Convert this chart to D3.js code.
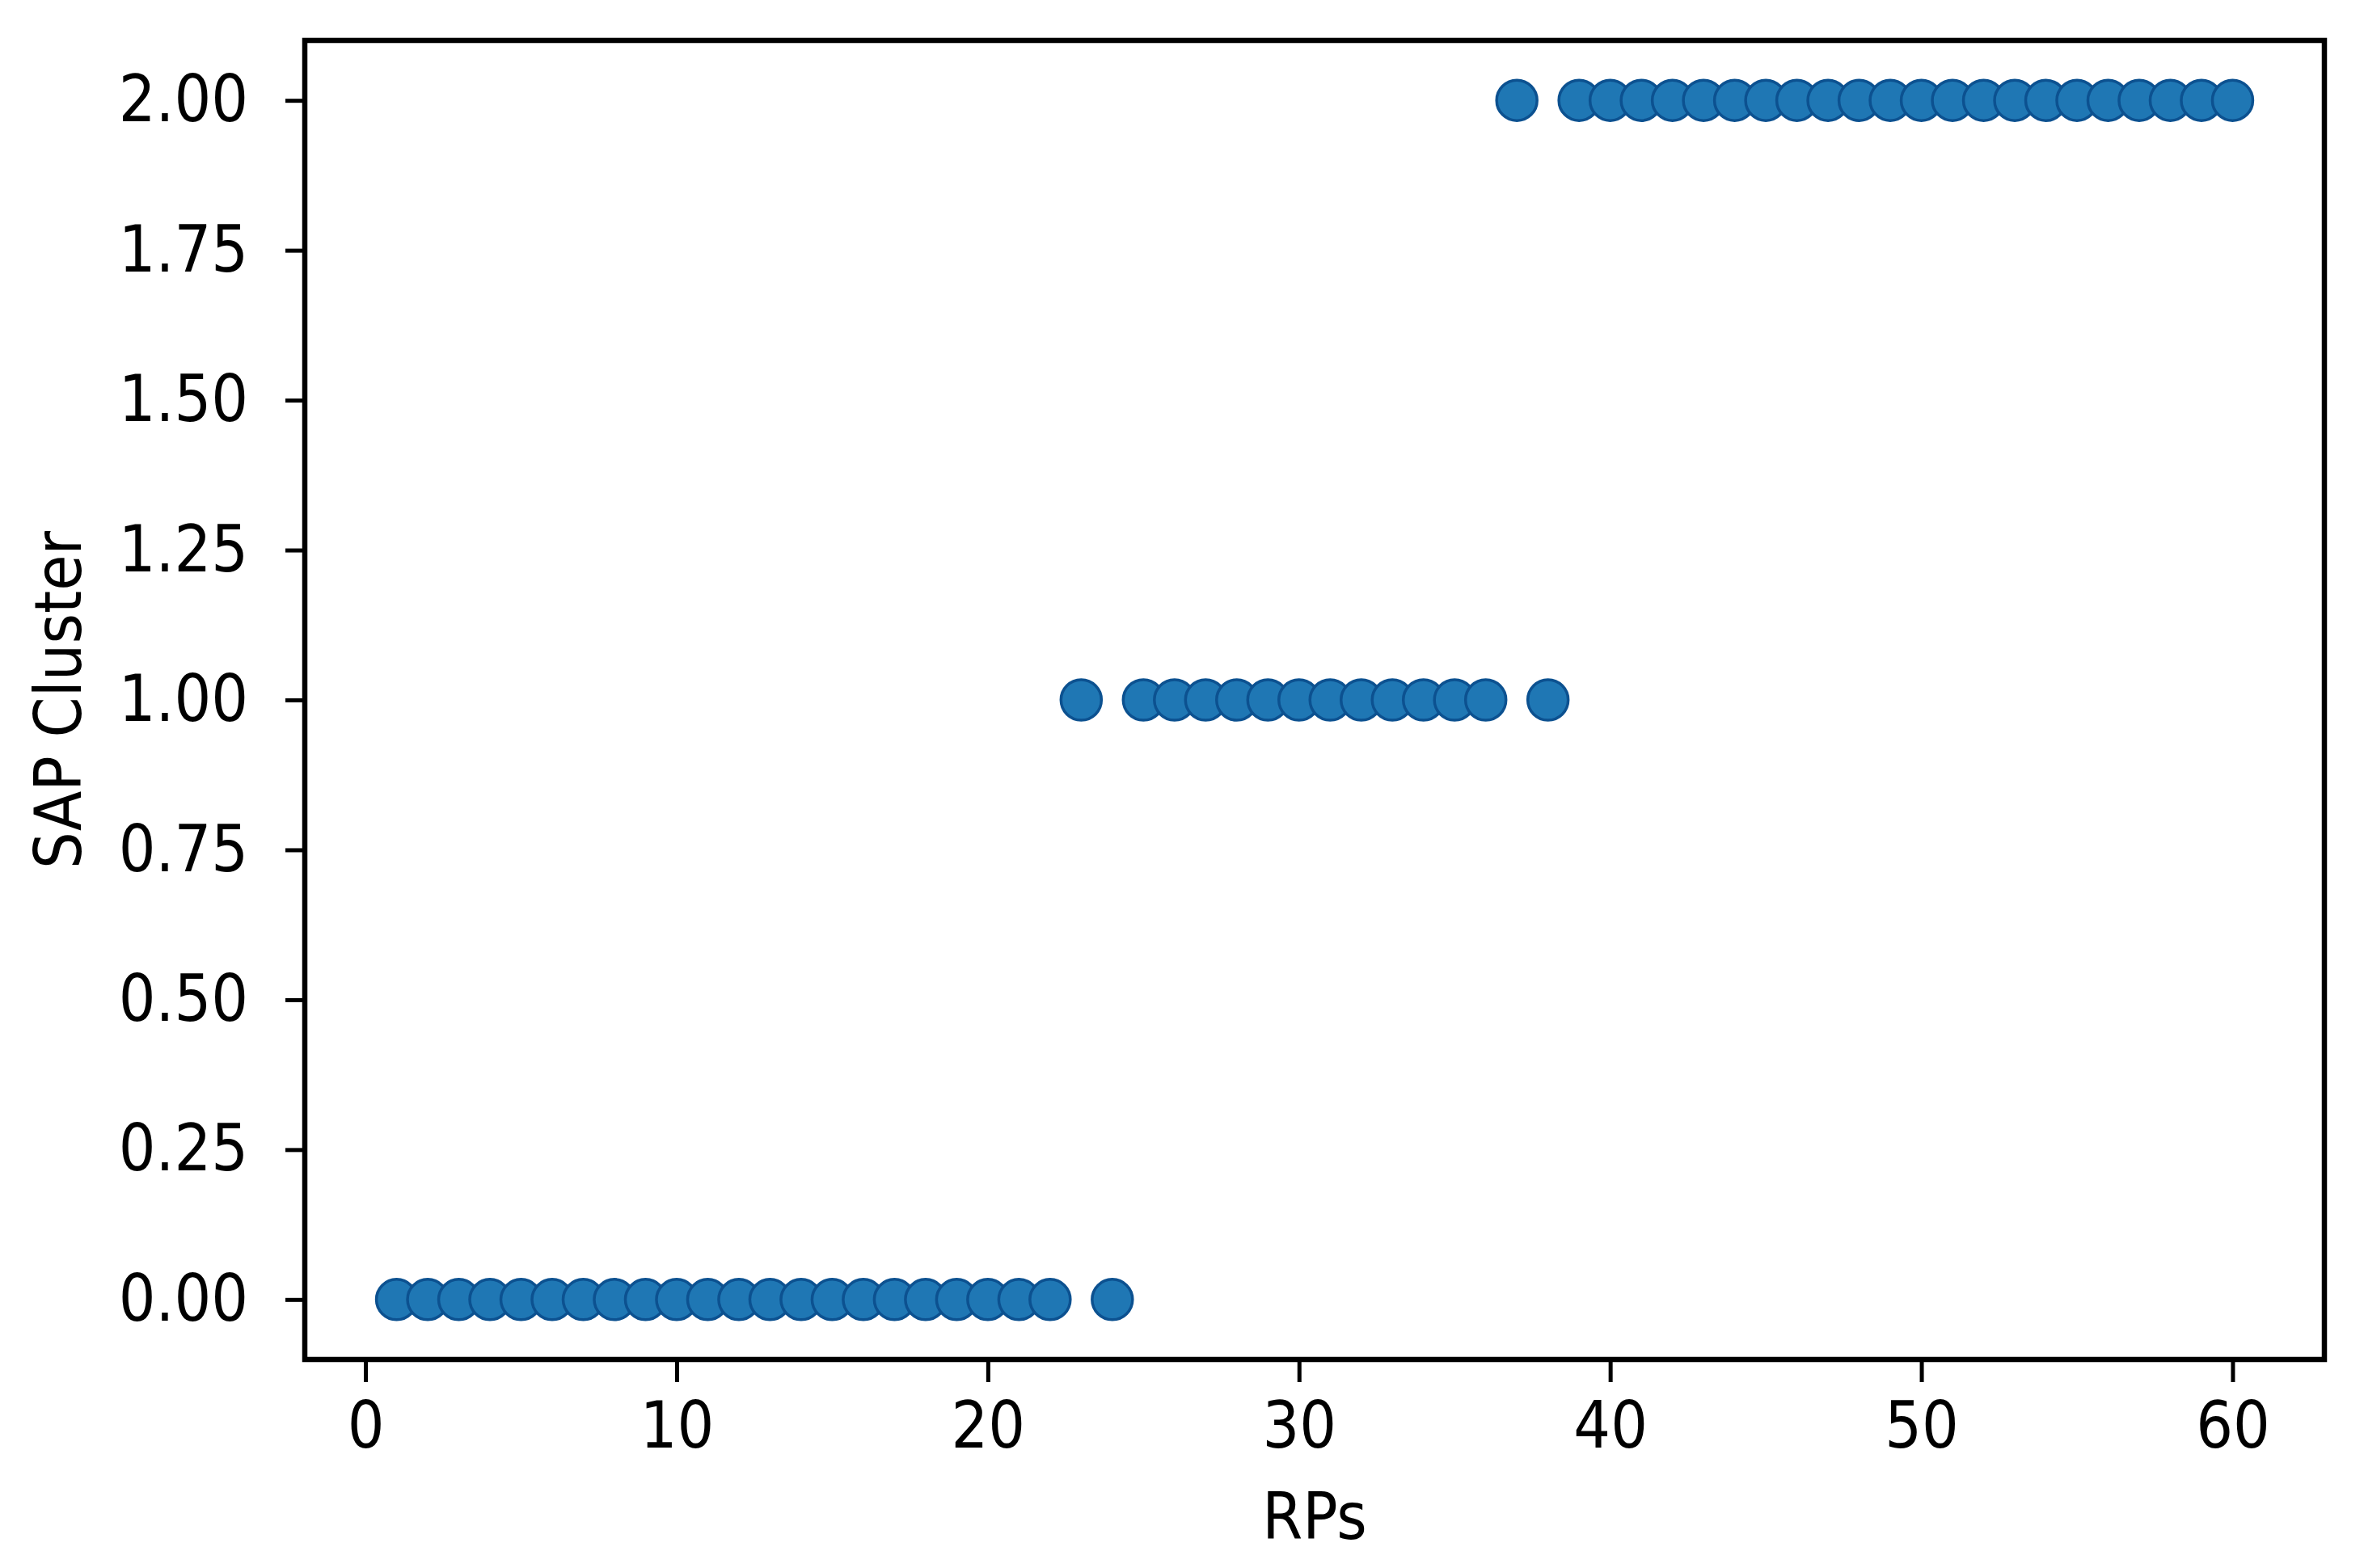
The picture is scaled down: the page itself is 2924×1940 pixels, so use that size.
<!DOCTYPE html>
<html>
<head>
<meta charset="utf-8">
<script src="https://cdn.jsdelivr.net/npm/d3@7"></script>
<style>
  body { margin: 0; background: #fff; }
  text { font-family: "DejaVu Sans Condensed", "DejaVu Sans", sans-serif; font-stretch: condensed; }
</style>
</head>
<body>
<svg></svg>
<script>
// RP index and the cluster each RP was assigned to
var rps = [];
for (var i = 1; i <= 60; i++) rps.push(i);
var clusters = [
    0, 0, 0, 0, 0, 0, 0, 0, 0, 0,
    0, 0, 0, 0, 0, 0, 0, 0, 0, 0,
    0, 0, 1, 0, 1, 1, 1, 1, 1, 1,
    1, 1, 1, 1, 1, 1, 2, 1, 2, 2,
    2, 2, 2, 2, 2, 2, 2, 2, 2, 2,
    2, 2, 2, 2, 2, 2, 2, 2, 2, 2
];
var xTicks = [0, 10, 20, 30, 40, 50, 60];
var yTicks = [0, 0.25, 0.5, 0.75, 1, 1.25, 1.5, 1.75, 2];

var svgWidth = 2924, svgHeight = 1940;
var margin = { top: 50, right: 49, bottom: 258, left: 377 };
var width = svgWidth - margin.left - margin.right;
var height = svgHeight - margin.top - margin.bottom;

var svg = d3.select("svg")
    .attr("width", svgWidth)
    .attr("height", svgHeight);

var g = svg.append("g")
    .attr("transform", "translate(" + margin.left + "," + margin.top + ")");

// matplotlib style 5% padding around the data
var x = d3.scaleLinear().domain([-1.95, 62.95]).range([0, width]);
var y = d3.scaleLinear().domain([-0.1, 2.1]).range([height, 0]);

var data = rps.map(function(d, i) { return { rp: d, cluster: clusters[i] }; });

// points
g.append("g")
    .selectAll("circle")
    .data(data)
    .enter().append("circle")
    .attr("cx", function(d) { return x(d.rp); })
    .attr("cy", function(d) { return y(d.cluster); })
    .attr("r", 25)
    .attr("fill", "#1f77b4")
    .attr("stroke", "#0c5190")
    .attr("stroke-width", 3.5);

// x axis
var xAxis = g.append("g")
    .attr("transform", "translate(0," + height + ")")
    .call(d3.axisBottom(x).tickValues(xTicks).tickSize(28).tickPadding(24).tickFormat(d3.format("d")));
xAxis.select(".domain").remove();
xAxis.selectAll("line").attr("stroke", "#000").attr("stroke-width", 5);
xAxis.selectAll("text").attr("font-size", 80).attr("fill", "#000");

// y axis
var yAxis = g.append("g")
    .call(d3.axisLeft(y).tickValues(yTicks).tickSize(24).tickPadding(46).tickFormat(d3.format(".2f")));
yAxis.select(".domain").remove();
yAxis.selectAll("line").attr("stroke", "#000").attr("stroke-width", 5);
yAxis.selectAll("text").attr("font-size", 80).attr("fill", "#000");

// frame
g.append("rect")
    .attr("width", width)
    .attr("height", height)
    .attr("fill", "none")
    .attr("stroke", "#000")
    .attr("stroke-width", 6.5);

// axis labels
svg.append("text")
    .attr("x", margin.left + width / 2)
    .attr("y", 1904)
    .attr("text-anchor", "middle")
    .attr("font-size", 80)
    .text("RPs");

svg.append("text")
    .attr("transform", "translate(100," + (margin.top + height / 2) + ") rotate(-90)")
    .attr("text-anchor", "middle")
    .attr("font-size", 80)
    .text("SAP Cluster");
</script>
</body>
</html>
